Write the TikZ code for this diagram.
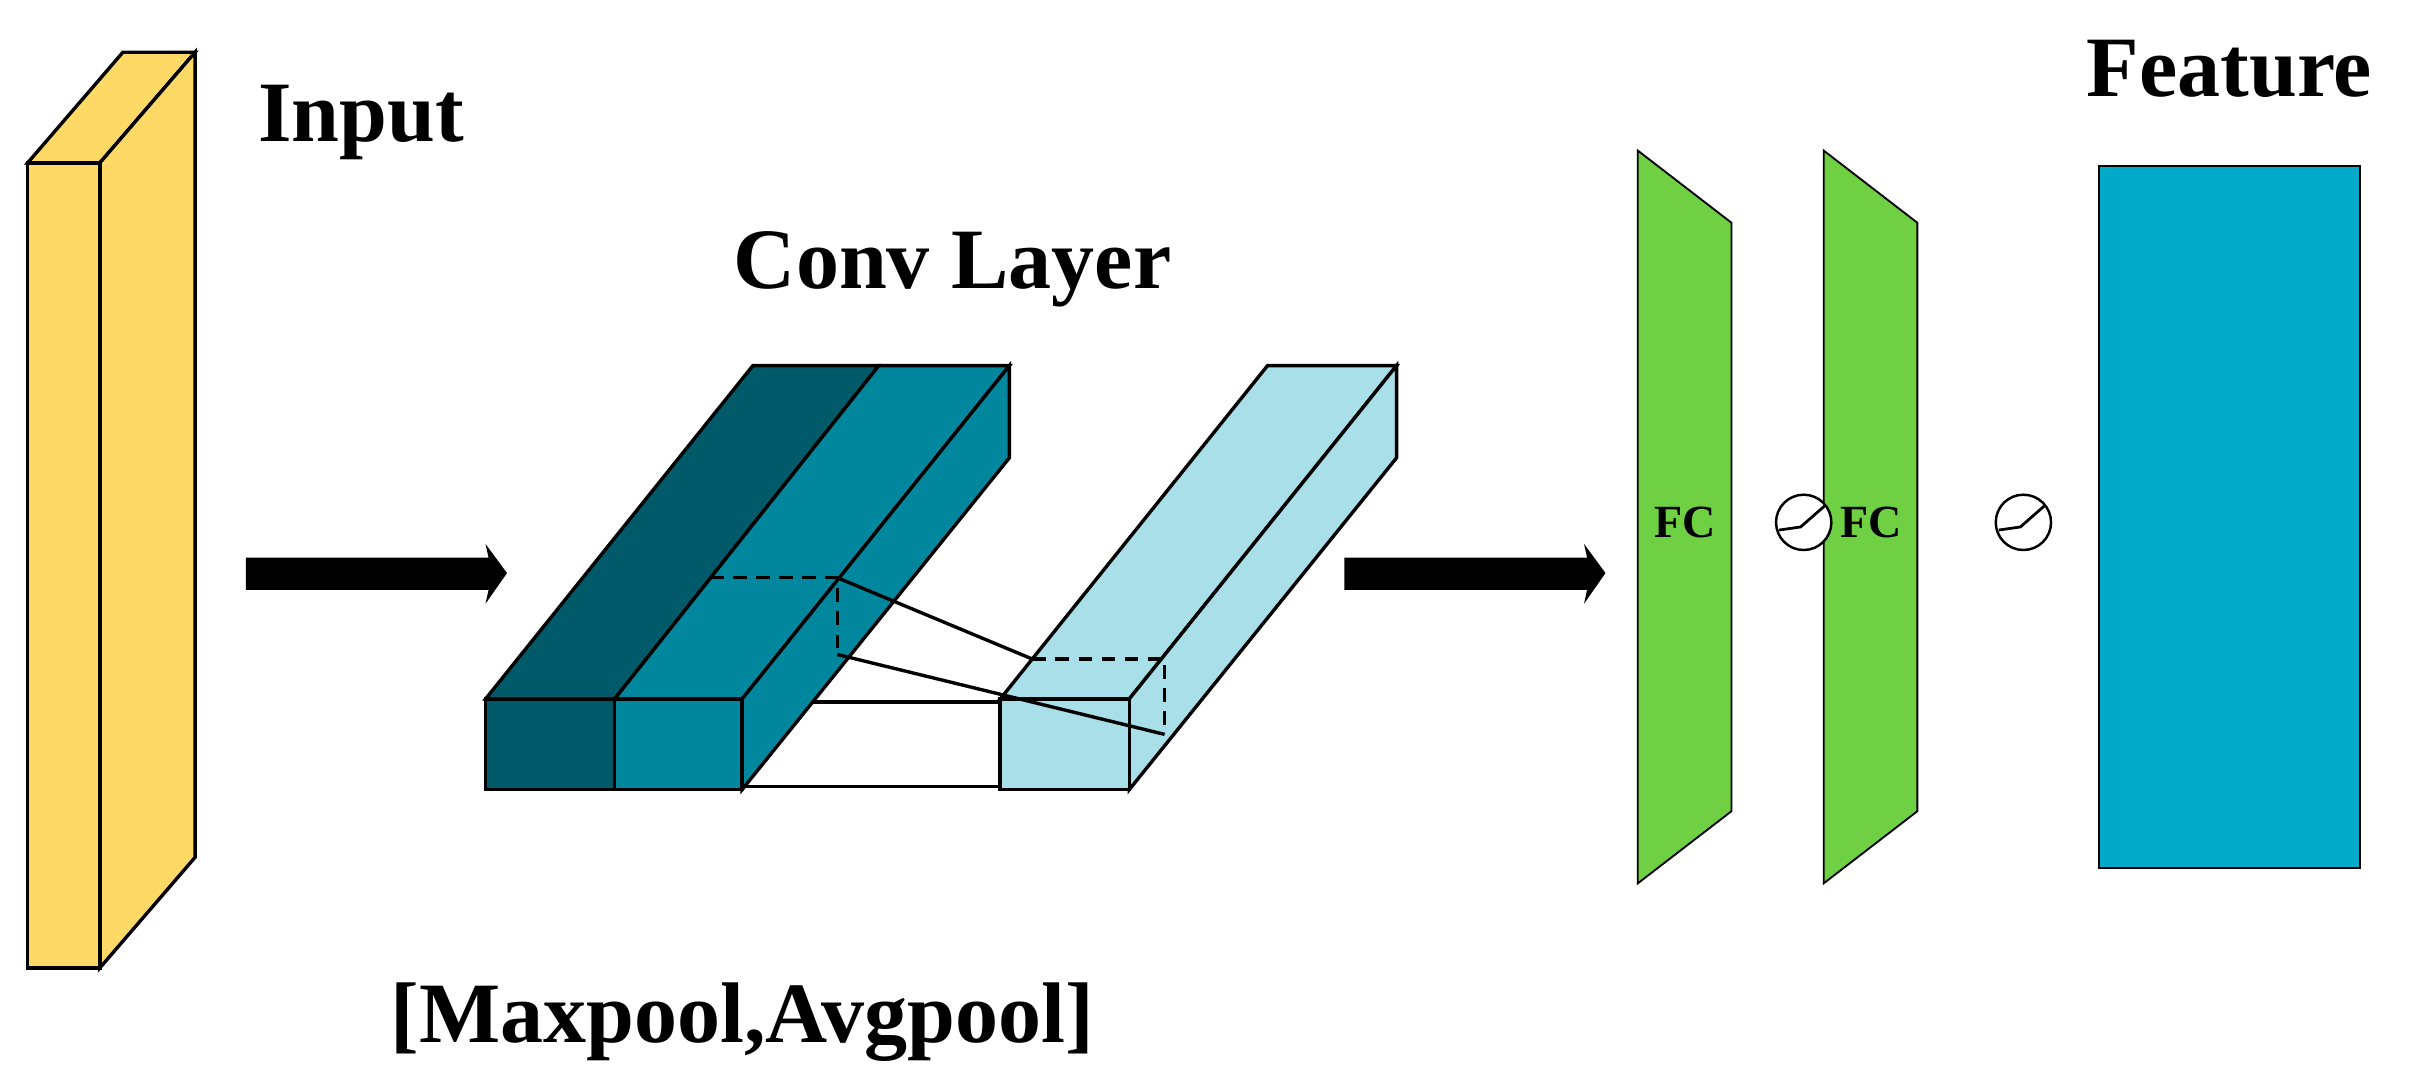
\documentclass[tikz,border=0pt]{standalone}
\usepackage{fontspec}
\setmainfont{Liberation Serif}
\begin{document}
\begin{tikzpicture}[x=1pt,y=-1pt,line join=miter,
  face/.style={draw=black,line width=2.2pt},
  lbl/.style={font=\fontsize{56}{60}\selectfont\bfseries,inner sep=0pt},
  fc/.style={font=\fontsize{30}{32}\selectfont\bfseries,inner sep=0pt},
  bigarrow/.style={fill=black,draw=none},
  act/.style={circle,draw=black,line width=1.6pt,fill=white,minimum size=36pt,inner sep=0pt}]
\definecolor{yel}{HTML}{FFD966}
\definecolor{dteal}{HTML}{005A6A}
\definecolor{mteal}{HTML}{00879E}
\definecolor{lteal}{HTML}{A8DFE8}
\definecolor{fgreen}{HTML}{70D044}
\definecolor{feat}{HTML}{00AAC8}
\useasboundingbox (0,0) rectangle (1568,708);
% Input slab
\draw[face,fill=yel] (18,106) -- (65,106) -- (127,34) -- (80,34) -- cycle;
\draw[face,fill=yel] (65,106) -- (127,34) -- (127,558) -- (65,630) -- cycle;
\draw[face,fill=yel] (18,106) rectangle (65,630);
\node[lbl] (input) at (235,80) {Input};
% arrows
\draw[bigarrow] (160,363) -- (318,363) -- (316,354) -- (330,373) -- (316,393) -- (318,384) -- (160,384) -- cycle;
\draw[bigarrow] (875,363) -- (1033,363) -- (1031,354) -- (1045,373) -- (1031,393) -- (1033,384) -- (875,384) -- cycle;
% white block
\draw[face,fill=white] (483,457) rectangle (651,512);
% conv blocks
\draw[face,fill=dteal] (316,455) -- (490,238) -- (572,238) -- (400,455) -- cycle;
\draw[face,fill=mteal] (400,455) -- (572,238) -- (657,238) -- (483,455) -- cycle;
\draw[face,fill=mteal] (483,455) -- (657,238) -- (657,298) -- (483,514) -- cycle;
\draw[face,fill=dteal] (316,455) rectangle (400,514);
\draw[face,fill=mteal] (400,455) rectangle (483,514);
% light block
\draw[face,fill=lteal] (651,455) -- (825,238) -- (909,238) -- (735,455) -- cycle;
\draw[face,fill=lteal] (735,455) -- (909,238) -- (909,298) -- (735,514) -- cycle;
\draw[face,fill=lteal] (651,455) rectangle (735,514);
% kernel lines
\coordinate (k1) at (545,376);
\coordinate (k2) at (545,426);
\coordinate (k3) at (672,429);
\coordinate (k4) at (758,478);
\draw[line width=2.2pt,dash pattern=on 9pt off 6pt] (462,376) -- (k1) -- (k2);
\draw[line width=2.2pt,dash pattern=on 9pt off 6pt] (k3) -- (758,429) -- (k4);
\draw[line width=2.2pt] (k1) -- (k3);
\draw[line width=2.2pt] (k2) -- (k4);
\node[lbl] (conv) at (620,175) {Conv Layer};
\node[lbl] (pool) at (483,665) {[Maxpool,Avgpool]};
% FC layers
\draw[line width=1.2pt,fill=fgreen] (1066,98) -- (1127,145) -- (1127,528) -- (1066,575) -- cycle;
\draw[line width=1.2pt,fill=fgreen] (1187,98) -- (1248,145) -- (1248,528) -- (1187,575) -- cycle;
\node[fc] (fc1) at (1097,340) {FC};
\node[fc] (fc2) at (1218,340) {FC};
\node[act] (a1) at (1174,340) {};
\node[act] (a2) at (1317,340) {};
\draw[line width=1.8pt] (1158,345) -- (1172,343) -- (1188,329);
\draw[line width=1.8pt] (1301,345) -- (1315,343) -- (1331,329);
% feature
\draw[line width=1.2pt,fill=feat] (1366,108) rectangle (1536,565);
\node[lbl] (feature) at (1451,45) {Feature};
\end{tikzpicture}
\end{document}
